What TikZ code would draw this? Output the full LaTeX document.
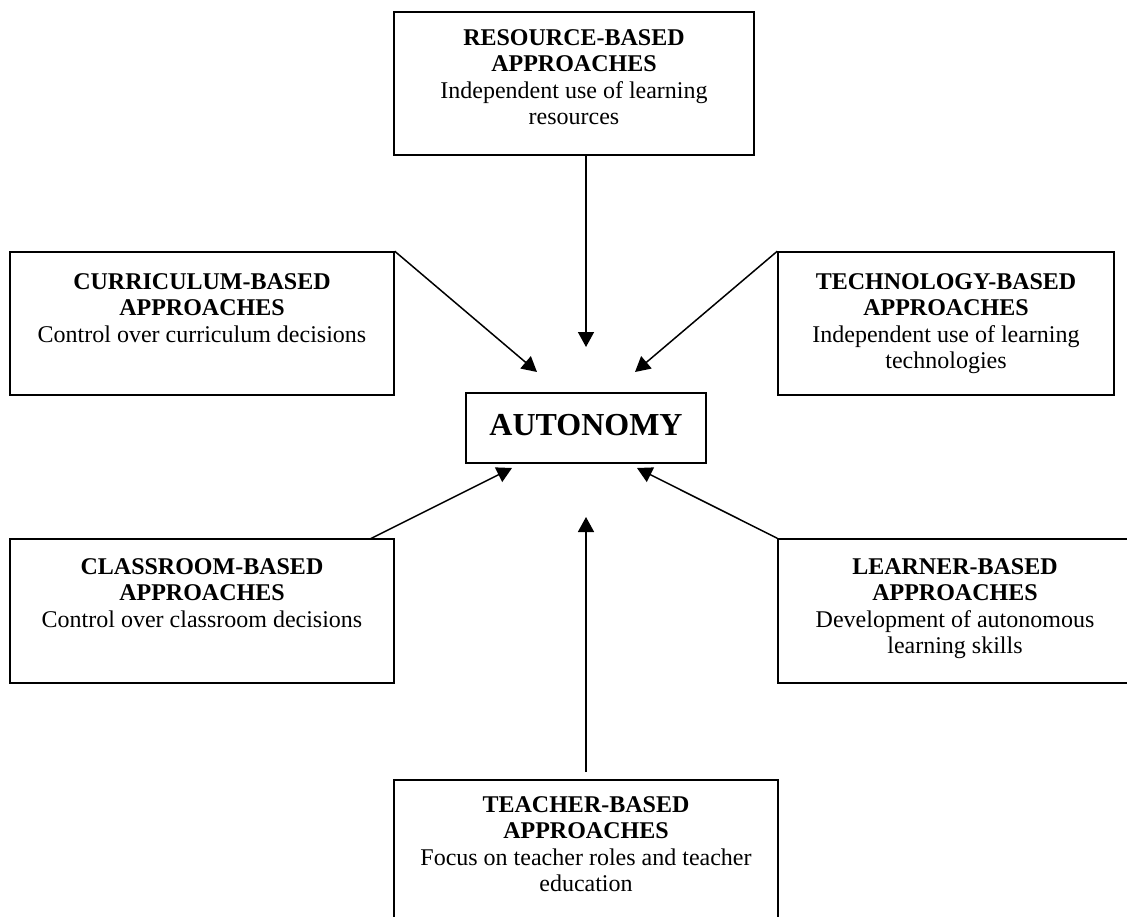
\documentclass[tikz,border=0pt]{standalone}
\usepackage{fontspec}
\setmainfont{Liberation Serif}
\usetikzlibrary{arrows.meta}
\begin{document}
\begin{tikzpicture}[x=1pt,y=-1pt,
  box/.style={draw, line width=1.5pt, rectangle, inner sep=0pt},
  lbl/.style={anchor=north, align=center, inner sep=0pt, font=\fontsize{24}{26.5}\selectfont},
  arr/.style={line width=1.5pt, -{Triangle[length=15pt,width=16pt]}}]
\useasboundingbox (0,0) rectangle (1127,917);
\clip (0,0) rectangle (1127,917);
% boxes
\node[box, minimum width=360pt, minimum height=143pt] (res) at (574,83.5) {};
\node[box, minimum width=384pt, minimum height=143pt] (cur) at (202,323.5) {};
\node[box, minimum width=336pt, minimum height=143pt] (tec) at (946,323.5) {};
\node[box, minimum width=240pt, minimum height=70pt] (aut) at (586,428) {};
\node[box, minimum width=384pt, minimum height=144pt] (cls) at (202,611) {};
\node[box, minimum width=356pt, minimum height=144pt] (lrn) at (956,611) {};
\node[box, minimum width=384pt, minimum height=150pt] (tch) at (586,855) {};
% texts
\node[lbl, yshift=-18pt] (resT) at (res.north) {\textbf{RESOURCE-BASED}\\\textbf{APPROACHES}\\Independent use of learning\\resources};
\node[lbl, yshift=-22pt] (curT) at (cur.north) {\textbf{CURRICULUM-BASED}\\\textbf{APPROACHES}\\Control over curriculum decisions};
\node[lbl, yshift=-22pt] (tecT) at (tec.north) {\textbf{TECHNOLOGY-BASED}\\\textbf{APPROACHES}\\Independent use of learning\\technologies};
\node[inner sep=0pt, font=\fontsize{32}{36}\selectfont\bfseries, yshift=3pt] (autT) at (aut.center) {AUTONOMY};
\node[lbl, yshift=-20pt] (clsT) at (cls.north) {\textbf{CLASSROOM-BASED}\\\textbf{APPROACHES}\\Control over classroom decisions};
\node[lbl, yshift=-20pt, xshift=-1pt] (lrnT) at (lrn.north) {\textbf{LEARNER-BASED}\\\textbf{APPROACHES}\\Development of autonomous\\learning skills};
\node[lbl, yshift=-17pt] (tchT) at (tch.north) {\textbf{TEACHER-BASED}\\\textbf{APPROACHES}\\Focus on teacher roles and teacher\\education};
% arrow end points
\coordinate (eRes) at (586,347);
\coordinate (eCur) at (537,372);
\coordinate (eTec) at (635,372);
\coordinate (sCls) at (370,539);
\coordinate (eCls) at (512,468);
\coordinate (eLrn) at (637,468);
\coordinate (sTch) at (586,772);
\coordinate (eTch) at (586,517);
% arrows
\draw[arr] (res.south -| aut.north) -- (eRes);
\draw[arr] (cur.north east) -- (eCur);
\draw[arr] (tec.north west) -- (eTec);
\draw[arr] (sCls) -- (eCls);
\draw[arr] (lrn.north west) -- (eLrn);
\draw[arr] (sTch) -- (eTch);
\end{tikzpicture}
\end{document}
